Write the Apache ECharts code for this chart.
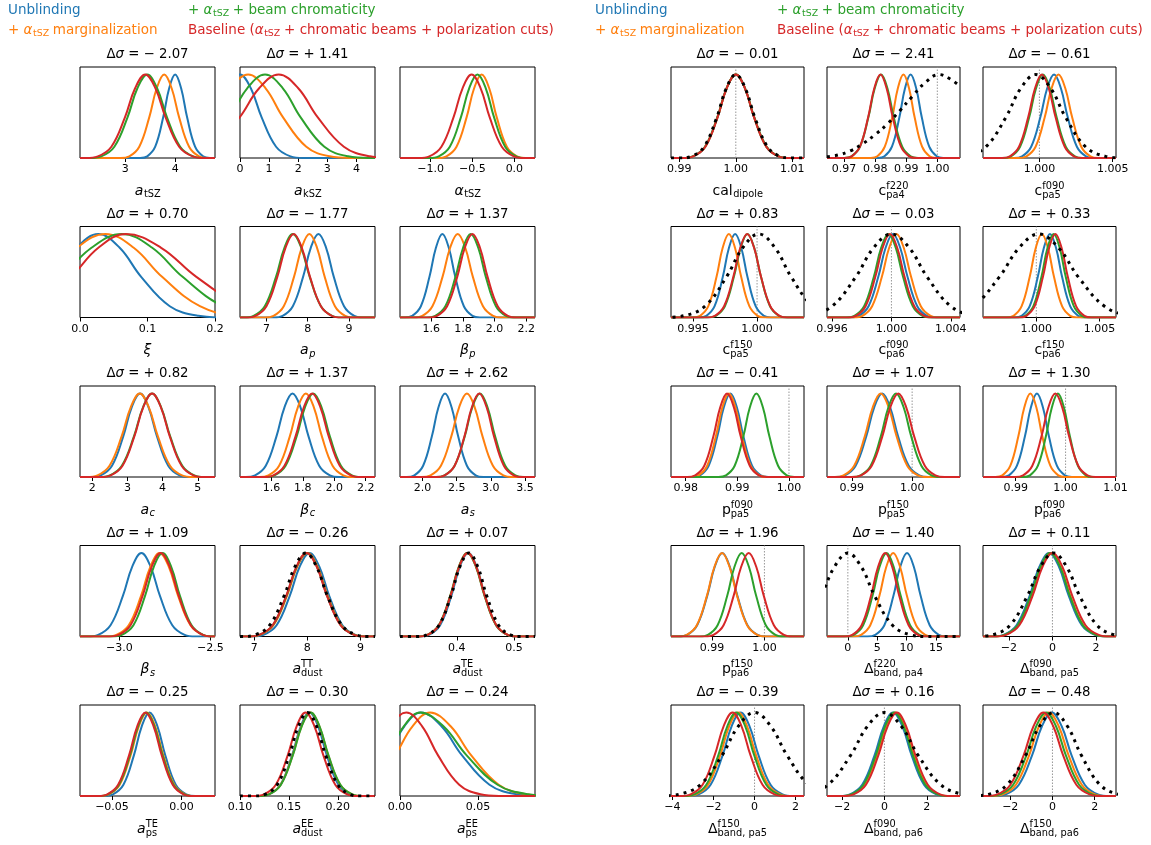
<!DOCTYPE html>
<html><head><meta charset="utf-8">
<script src="https://cdn.jsdelivr.net/npm/echarts@6/dist/echarts.min.js"></script>
<style>html,body{margin:0;padding:0;background:#fff}#c{width:1151px;height:845px}</style>
</head><body><div id="c"></div>
<script>
const LEVELS = [0, 0.02, 0.135, 0.487, 0.835, 1, 0.835, 0.487, 0.135, 0.02, 0];
const COLORS = ['#1f77b4', '#ff7f0e', '#2ca02c', '#d62728'];

const DSIGMA_LEFT = ['−2.07','+1.41',null,'+0.70','−1.77','+1.37','+0.82','+1.37','+2.62','+1.09','−0.26','+0.07','−0.25','−0.30','−0.24'];
const DSIGMA_RIGHT = ['−0.01','−2.41','−0.61','+0.83','−0.03','+0.33','−0.41','+1.07','+1.30','+1.96','−1.40','+0.11','−0.39','+0.16','−0.48'];

// ---------- left block ----------
const aTSZ_range = [2.09, 4.80], aTSZ_ticks = ['3','4'];
const aTSZ_blue = [3.30,3.44,3.60,3.76,3.88,4.00,4.12,4.24,4.40,4.56,4.70];
const aTSZ_orange = [2.905,3.08,3.28,3.48,3.63,3.78,3.93,4.08,4.28,4.48,4.655];
const aTSZ_green = [2.285,2.516,2.78,3.044,3.242,3.44,3.638,3.836,4.10,4.364,4.595];
const aTSZ_red = [2.21,2.448,2.72,2.992,3.196,3.40,3.604,3.808,4.08,4.352,4.59];

const aKSZ_range = [0, 4.64], aKSZ_ticks = ['0','1','2','3','4'];
const aKSZ_blue = [-2.17,-1.736,-1.24,-0.744,-0.372,0,0.372,0.744,1.24,1.736,2.17];
const aKSZ_orange = [-3.22,-2.52,-1.72,-0.92,-0.32,0.28,0.88,1.48,2.28,3.08,3.78];
const aKSZ_green = [-2.71,-1.996,-1.18,-0.364,0.248,0.86,1.472,2.084,2.90,3.716,4.43];
const aKSZ_red = [-2.59,-1.806,-0.91,-0.014,0.658,1.33,2.002,2.674,3.57,4.466,5.25];

const alphaTSZ_range = [-1.364, 0.246], alphaTSZ_ticks = ['−1.0','−0.5','0.0'];
const alphaTSZ_orange = [-0.915,-0.81,-0.69,-0.57,-0.48,-0.39,-0.30,-0.21,-0.09,0.03,0.135];
const alphaTSZ_green = [-1.0175,-0.902,-0.77,-0.638,-0.539,-0.44,-0.341,-0.242,-0.11,0.022,0.1375];
const alphaTSZ_red = [-1.14,-1.014,-0.87,-0.726,-0.618,-0.51,-0.402,-0.294,-0.15,-0.006,0.12];

const xi_range = [0, 0.2], xi_ticks = ['0.0','0.1','0.2'];
const xi_blue = [-0.1585,-0.1214,-0.079,-0.0366,-0.0048,0.027,0.0588,0.0906,0.133,0.1754,0.2125];
const xi_orange = [-0.2074,-0.1584,-0.1024,-0.0464,-0.0044,0.0376,0.0796,0.1216,0.1776,0.2336,0.2826];
const xi_green = [-0.2005,-0.148,-0.088,-0.028,0.017,0.062,0.107,0.152,0.212,0.272,0.3245];
const xi_red = [-0.17,-0.1224,-0.068,-0.0136,0.0272,0.068,0.1202,0.1724,0.242,0.3116,0.3725];

const aP_range = [6.36, 9.63], aP_ticks = ['7','8','9'];
const aP_blue = [7.175,7.392,7.64,7.888,8.074,8.26,8.446,8.632,8.88,9.128,9.345];
const aP_orange = [6.955,7.172,7.42,7.668,7.854,8.04,8.226,8.412,8.66,8.908,9.125];
const aP_green = [6.45,6.688,6.96,7.232,7.436,7.64,7.844,8.048,8.32,8.592,8.83];
const aP_red = [6.505,6.736,7.00,7.264,7.462,7.66,7.858,8.056,8.32,8.584,8.815];

const betaP_range = [1.402, 2.256], betaP_ticks = ['1.6','1.8','2.0','2.2'];
const betaP_blue = [1.432,1.4796,1.534,1.5884,1.6292,1.67,1.7108,1.7516,1.806,1.8604,1.908];
const betaP_orange = [1.487,1.543,1.607,1.671,1.719,1.767,1.815,1.863,1.927,1.991,2.047];
const betaP_green = [1.569,1.625,1.689,1.753,1.801,1.849,1.897,1.945,2.009,2.073,2.129];
const betaP_red = [1.58,1.636,1.70,1.764,1.812,1.86,1.908,1.956,2.02,2.084,2.14];

const aC_range = [1.65, 5.49], aC_ticks = ['2','3','4','5'];
const aC_blue = [1.96,2.24,2.56,2.88,3.12,3.36,3.60,3.84,4.16,4.48,4.76];
const aC_orange = [1.845,2.146,2.49,2.834,3.092,3.35,3.608,3.866,4.21,4.554,4.855];
const aC_green = [2.195,2.496,2.84,3.184,3.442,3.70,3.958,4.216,4.56,4.904,5.205];
const aC_red = [2.23,2.524,2.86,3.196,3.448,3.70,3.952,4.204,4.54,4.876,5.17];

const betaC_range = [1.40, 2.259], betaC_ticks = ['1.6','1.8','2.0','2.2'];
const betaC_blue = [1.4365,1.496,1.564,1.632,1.683,1.734,1.785,1.836,1.904,1.972,2.0315];
const betaC_orange = [1.5215,1.581,1.649,1.717,1.768,1.819,1.87,1.921,1.989,2.057,2.1165];
const betaC_green = [1.558,1.6196,1.69,1.7604,1.8132,1.866,1.9188,1.9716,2.042,2.1124,2.174];
const betaC_red = [1.551,1.6126,1.683,1.7534,1.8062,1.859,1.9118,1.9646,2.035,2.1054,2.167];

const aS_range = [1.672, 3.645], aS_ticks = ['2.0','2.5','3.0','3.5'];
const aS_blue = [1.77,1.882,2.01,2.138,2.234,2.33,2.426,2.522,2.65,2.778,2.89];
const aS_orange = [1.985,2.118,2.27,2.422,2.536,2.65,2.764,2.878,3.03,3.182,3.315];
const aS_green = [2.1925,2.322,2.47,2.618,2.729,2.84,2.951,3.062,3.21,3.358,3.4875];
const aS_red = [2.20,2.326,2.47,2.614,2.722,2.83,2.938,3.046,3.19,3.334,3.46];

const betaS_range = [-3.217, -2.474], betaS_ticks = ['−3.0','−2.5'];
const betaS_blue = [-3.1765,-3.117,-3.049,-2.981,-2.93,-2.879,-2.828,-2.777,-2.709,-2.641,-2.5815];
const betaS_orange = [-3.0765,-3.017,-2.949,-2.881,-2.83,-2.779,-2.728,-2.677,-2.609,-2.541,-2.4815];
const betaS_green = [-3.043,-2.987,-2.923,-2.859,-2.811,-2.763,-2.715,-2.667,-2.603,-2.539,-2.483];
const betaS_red = [-3.0635,-3.0054,-2.939,-2.8726,-2.8228,-2.773,-2.7232,-2.6734,-2.607,-2.5406,-2.4825];

const aDustTT_range = [6.73, 9.275], aDustTT_ticks = ['7','8','9'];
const aDustTT_blue = [6.955,7.172,7.42,7.668,7.854,8.04,8.226,8.412,8.66,8.908,9.125];
const aDustTT_orange = [6.88,7.104,7.36,7.616,7.808,8.00,8.192,8.384,8.64,8.896,9.12];
const aDustTT_green = [6.87,7.094,7.35,7.606,7.798,7.99,8.182,8.374,8.63,8.886,9.11];
const aDustTT_red = [6.865,7.089,7.345,7.601,7.793,7.985,8.177,8.369,8.625,8.881,9.105];
const aDustTT_prior = [6.78,7.018,7.29,7.562,7.766,7.97,8.174,8.378,8.65,8.922,9.16];

const aDustTE_range = [0.301, 0.5365], aDustTE_ticks = ['0.4','0.5'];
const aDustTE_blue = [0.33425,0.3514,0.371,0.3906,0.4053,0.42,0.4347,0.4494,0.469,0.4886,0.50575];
const aDustTE_orange = [0.3315,0.349,0.369,0.389,0.404,0.419,0.434,0.449,0.469,0.489,0.5065];
const aDustTE_green = [0.331,0.3485,0.3685,0.3885,0.4035,0.4185,0.4335,0.4485,0.4685,0.4885,0.506];
const aDustTE_red = [0.3315,0.349,0.369,0.389,0.404,0.419,0.434,0.449,0.469,0.489,0.5065];
const aDustTE_prior = [0.33,0.3482,0.369,0.3898,0.4054,0.421,0.4366,0.4522,0.473,0.4938,0.512];

const aPsTE_range = [-0.073, 0.024], aPsTE_ticks = ['−0.05','0.00'];
const aPsTE_blue = [-0.0559,-0.04932,-0.0418,-0.03428,-0.02864,-0.023,-0.01736,-0.01172,-0.0042,0.00332,0.0099];
const aPsTE_orange = [-0.0592,-0.05234,-0.0445,-0.03666,-0.03078,-0.0249,-0.01902,-0.01314,-0.0053,0.00254,0.0094];
const aPsTE_green = [-0.0597,-0.05284,-0.045,-0.03716,-0.03128,-0.0254,-0.01952,-0.01364,-0.0058,0.00204,0.0089];
const aPsTE_red = [-0.0603,-0.05344,-0.0456,-0.03776,-0.03188,-0.026,-0.02012,-0.01424,-0.0064,0.00144,0.0083];

const aDustEE_range = [0.10, 0.238], aDustEE_ticks = ['0.10','0.15','0.20'];
const aDustEE_blue = [0.1192,0.12956,0.1414,0.15324,0.16212,0.171,0.17988,0.18876,0.2006,0.21244,0.2228];
const aDustEE_orange = [0.1188,0.12944,0.1416,0.15376,0.16288,0.172,0.18112,0.19024,0.2024,0.21456,0.2252];
const aDustEE_green = [0.119,0.12964,0.1418,0.15396,0.16308,0.1722,0.18132,0.19044,0.2026,0.21476,0.2254];
const aDustEE_red = [0.1138,0.12444,0.1366,0.14876,0.15788,0.167,0.17612,0.18524,0.1974,0.20956,0.2202];
const aDustEE_prior = [0.11475,0.1256,0.138,0.1504,0.1597,0.169,0.1783,0.1876,0.2,0.2124,0.22325];

const aPsEE_range = [0, 0.0866], aPsEE_ticks = ['0.00','0.05'];
const aPsEE_blue = [-0.04855,-0.03616,-0.022,-0.00784,0.00278,0.0134,0.0266,0.0398,0.0574,0.075,0.0904];
const aPsEE_orange = [-0.0465,-0.03334,-0.0183,-0.00326,0.00802,0.0193,0.0325,0.0457,0.0633,0.0809,0.0963];
const aPsEE_green = [-0.0486,-0.03628,-0.0222,-0.00812,0.00244,0.013,0.02788,0.04276,0.0626,0.08244,0.0998];
const aPsEE_red = [-0.0555,-0.0436,-0.03,-0.0164,-0.0062,0.004,0.0142,0.0244,0.038,0.0516,0.0635];

// ---------- right block ----------
const calDipole_range = [0.98853, 1.01207], calDipole_ticks = ['0.99','1.00','1.01'];
const calDipole_blue = [0.99055,0.99244,0.9946,0.99676,0.99838,1.0,1.00162,1.00324,1.0054,1.00756,1.00945];
const calDipole_orange = [0.99055,0.99244,0.9946,0.99676,0.99838,1.0,1.00162,1.00324,1.0054,1.00756,1.00945];
const calDipole_green = [0.99045,0.99236,0.99454,0.99672,0.99836,1.0,1.00164,1.00328,1.00546,1.00764,1.00955];
const calDipole_red = [0.99055,0.99244,0.9946,0.99676,0.99838,1.0,1.00162,1.00324,1.0054,1.00756,1.00945];
const calDipole_prior = [0.9902,0.99216,0.9944,0.99664,0.99832,1.0,1.00168,1.00336,1.0056,1.00784,1.0098];

const cF220pa4_range = [0.9645, 1.0073], cF220pa4_ticks = ['0.97','0.98','0.99','1.00'];
const cF220pa4_blue = [0.9809,0.983,0.9854,0.9878,0.9896,0.9914,0.9932,0.995,0.9974,0.9998,1.0019];
const cF220pa4_orange = [0.9786,0.9807,0.9831,0.9855,0.9873,0.9891,0.9909,0.9927,0.9951,0.9975,0.9996];
const cF220pa4_green = [0.97,0.97238,0.9751,0.97782,0.97986,0.9819,0.98394,0.98598,0.9887,0.99142,0.9938];
const cF220pa4_red = [0.97015,0.97246,0.9751,0.97774,0.97972,0.9817,0.98368,0.98566,0.9883,0.99094,0.99325];
const cF220pa4_prior = [[0.9645,0.015],[0.968,0.035],[0.972,0.085],[0.976,0.17],[0.98,0.28],[0.984,0.41],[0.988,0.57],[0.992,0.74],[0.996,0.9],[1.0005,1.0],[1.004,0.95],[1.0073,0.86]];

const cF090pa5_range = [0.99615, 1.00523], cF090pa5_ticks = ['1.000','1.005'];
const cF090pa5_blue = [0.99827,0.998816,0.99944,1.000064,1.000532,1.0010,1.001468,1.001936,1.00256,1.003184,1.00373];
const cF090pa5_orange = [0.99857,0.999116,0.99974,1.000364,1.000832,1.0013,1.001768,1.002236,1.00286,1.003484,1.00403];
const cF090pa5_green = [0.99751,0.998056,0.99868,0.999304,0.999772,1.00024,1.000708,1.001176,1.0018,1.002424,1.00297];
const cF090pa5_red = [0.99744,0.997986,0.99861,0.999234,0.999702,1.00017,1.000638,1.001106,1.00173,1.002354,1.0029];
const cF090pa5_prior = [0.9938,0.99499,0.99635,0.99771,0.99873,0.99975,1.00077,1.00179,1.00315,1.00451,1.0057];

const cF150pa5_range = [0.99329, 1.00366], cF150pa5_ticks = ['0.995','1.000'];
const cF150pa5_blue = [0.99549,0.99605,0.99669,0.99733,0.99781,0.99829,0.99877,0.99925,0.99989,1.00053,1.00109];
const cF150pa5_orange = [0.995,0.99556,0.9962,0.99684,0.99732,0.9978,0.99828,0.99876,0.9994,1.00004,1.0006];
const cF150pa5_green = [0.99617,0.996786,0.99749,0.998194,0.998722,0.99925,0.999778,1.000306,1.00101,1.001714,1.00233];
const cF150pa5_red = [0.99608,0.99671,0.99743,0.99815,0.99869,0.99923,0.99977,1.00031,1.00103,1.00175,1.00238];
const cF150pa5_prior = [0.99279,0.99426,0.99594,0.99762,0.99888,1.00014,1.0014,1.00266,1.00434,1.00602,1.00749];

const cF090pa6_range = [0.99566, 1.00462], cF090pa6_ticks = ['0.996','1.000','1.004'];
const cF090pa6_blue = [0.99723,0.997804,0.99846,0.999116,0.999608,1.0001,1.000592,1.001084,1.00174,1.002396,1.00297];
const cF090pa6_orange = [0.99747,0.998044,0.9987,0.999356,0.999848,1.00034,1.000832,1.001324,1.00198,1.002636,1.00321];
const cF090pa6_green = [0.99693,0.997504,0.99816,0.998816,0.999308,0.9998,1.000292,1.000784,1.00144,1.002096,1.00267];
const cF090pa6_red = [0.99703,0.997604,0.99826,0.998916,0.999408,0.9999,1.000392,1.000884,1.00154,1.002196,1.00277];
const cF090pa6_prior = [0.993,0.9944,0.996,0.9976,0.9988,1.0,1.0012,1.0024,1.004,1.0056,1.007];

const cF150pa6_range = [0.99578, 1.00631], cF150pa6_ticks = ['1.000','1.005'];
const cF150pa6_blue = [0.99828,0.99884,0.99948,1.00012,1.0006,1.00108,1.00156,1.00204,1.00268,1.00332,1.00388];
const cF150pa6_orange = [0.99764,0.9982,0.99884,0.99948,0.99996,1.00044,1.00092,1.0014,1.00204,1.00268,1.00324];
const cF150pa6_green = [0.99857,0.99913,0.99977,1.00041,1.00089,1.00137,1.00185,1.00233,1.00297,1.00361,1.00417];
const cF150pa6_red = [0.99864,0.999214,0.99987,1.000526,1.001018,1.00151,1.002002,1.002494,1.00315,1.003806,1.00438];
const cF150pa6_prior = [0.9911,0.99292,0.995,0.99708,0.99864,1.0002,1.00176,1.00332,1.0054,1.00748,1.0093];

const pF090pa5_range = [0.97716, 1.00291], pF090pa5_ticks = ['0.98','0.99','1.00'];
const pF090pa5_blue = [0.9813,0.98277,0.98445,0.98613,0.98739,0.98865,0.98991,0.99117,0.99285,0.99453,0.996];
const pF090pa5_orange = [0.98102,0.98249,0.98417,0.98585,0.98711,0.98837,0.98963,0.99089,0.99257,0.99425,0.99572];
const pF090pa5_green = [0.98634,0.98781,0.98949,0.99117,0.99243,0.99369,0.99495,0.99621,0.99789,0.99957,1.00104];
const pF090pa5_red = [0.98031,0.98185,0.98361,0.98537,0.98669,0.98801,0.98933,0.99065,0.99241,0.99417,0.99571];

const pF150pa5_range = [0.98588, 1.00794], pF150pa5_ticks = ['0.99','1.00'];
const pF150pa5_blue = [0.98733,0.98887,0.99063,0.99239,0.99371,0.99503,0.99635,0.99767,0.99943,1.00119,1.00273];
const pF150pa5_orange = [0.98709,0.98863,0.99039,0.99215,0.99347,0.99479,0.99611,0.99743,0.99919,1.00095,1.00249];
const pF150pa5_green = [0.98998,0.99145,0.99313,0.99481,0.99607,0.99733,0.99859,0.99985,1.00153,1.00321,1.00468];
const pF150pa5_red = [0.99,0.99154,0.9933,0.99506,0.99638,0.9977,0.99902,1.00034,1.0021,1.00386,1.0054];

const pF090pa6_range = [0.98346, 1.0101], pF090pa6_ticks = ['0.99','1.00','1.01'];
const pF090pa6_blue = [0.98726,0.98866,0.99026,0.99186,0.99306,0.99426,0.99546,0.99666,0.99826,0.99986,1.00126];
const pF090pa6_orange = [0.98594,0.98734,0.98894,0.99054,0.99174,0.99294,0.99414,0.99534,0.99694,0.99854,0.99994];
const pF090pa6_green = [0.99146,0.99286,0.99446,0.99606,0.99726,0.99846,0.99966,1.00086,1.00246,1.00406,1.00546];
const pF090pa6_red = [0.98989,0.9915,0.99334,0.99518,0.99656,0.99794,0.99932,1.0007,1.00254,1.00438,1.00599];

const pF150pa6_range = [0.98217, 1.00755], pF150pa6_ticks = ['0.99','1.00'];
const pF150pa6_blue = [0.98356,0.98524,0.98716,0.98908,0.99052,0.99196,0.9934,0.99484,0.99676,0.99868,1.00036];
const pF150pa6_orange = [0.9835,0.98518,0.9871,0.98902,0.99046,0.9919,0.99334,0.99478,0.9967,0.99862,1.0003];
const pF150pa6_green = [0.98761,0.98922,0.99106,0.9929,0.99428,0.99566,0.99704,0.99842,1.00026,1.0021,1.00371];
const pF150pa6_red = [0.9886,0.99028,0.9922,0.99412,0.99556,0.997,0.99844,0.99988,1.0018,1.00372,1.0054];

const dF220pa4_range = [-3.55, 19.1], dF220pa4_ticks = ['0','5','10','15'];
const dF220pa4_blue = [3.325,4.676,6.22,7.764,8.922,10.08,11.238,12.396,13.94,15.484,16.835];
const dF220pa4_orange = [0.895,2.26,3.82,5.38,6.55,7.72,8.89,10.06,11.62,13.18,14.545];
const dF220pa4_green = [-0.4,1.0,2.6,4.2,5.4,6.6,7.8,9.0,10.6,12.2,13.6];
const dF220pa4_red = [-0.65,0.75,2.35,3.95,5.15,6.35,7.55,8.75,10.35,11.95,13.35];
const dF220pa4_prior = [-13.3,-10.64,-7.6,-4.56,-2.28,0,2.28,4.56,7.6,10.64,13.3];

const dF090pa5_range = [-3.19, 2.92], dF090pa5_ticks = ['−2','0','2'];
const dF090pa5_blue = [-2.775,-2.25,-1.65,-1.05,-0.6,-0.15,0.3,0.75,1.35,1.95,2.475];
const dF090pa5_orange = [-2.705,-2.18,-1.58,-0.98,-0.53,-0.08,0.37,0.82,1.42,2.02,2.545];
const dF090pa5_green = [-2.725,-2.2,-1.6,-1.0,-0.55,-0.1,0.35,0.8,1.4,2.0,2.525];
const dF090pa5_red = [-2.66,-2.128,-1.52,-0.912,-0.456,0,0.456,0.912,1.52,2.128,2.66];
const dF090pa5_prior = [-3.45,-2.75,-1.95,-1.15,-0.55,0.05,0.65,1.25,2.05,2.85,3.55];

const dF150pa5_range = [-4.07, 2.41], dF150pa5_ticks = ['−4','−2','0','2'];
const dF150pa5_blue = [-3.235,-2.724,-2.14,-1.556,-1.118,-0.68,-0.242,0.196,0.78,1.364,1.875];
const dF150pa5_orange = [-3.355,-2.844,-2.26,-1.676,-1.238,-0.8,-0.362,0.076,0.66,1.244,1.755];
const dF150pa5_green = [-3.445,-2.934,-2.35,-1.766,-1.328,-0.89,-0.452,-0.014,0.57,1.154,1.665];
const dF150pa5_red = [-3.625,-3.114,-2.53,-1.946,-1.508,-1.07,-0.632,-0.194,0.39,0.974,1.485];
const dF150pa5_prior = [-4.62,-3.696,-2.64,-1.584,-0.792,0,0.792,1.584,2.64,3.696,4.62];

const dF090pa6_range = [-2.71, 3.57], dF090pa6_ticks = ['−2','0','2'];
const dF090pa6_blue = [-2.145,-1.634,-1.05,-0.466,-0.028,0.41,0.848,1.286,1.87,2.454,2.965];
const dF090pa6_orange = [-2.035,-1.524,-0.94,-0.356,0.082,0.52,0.958,1.396,1.98,2.564,3.075];
const dF090pa6_green = [-2.085,-1.574,-0.99,-0.406,0.032,0.47,0.908,1.346,1.93,2.514,3.025];
const dF090pa6_red = [-1.965,-1.454,-0.87,-0.286,0.152,0.59,1.028,1.466,2.05,2.634,3.145];
const dF090pa6_prior = [-4.655,-3.724,-2.66,-1.596,-0.798,0,0.798,1.596,2.66,3.724,4.655];

const dF150pa6_range = [-3.29, 3.01], dF150pa6_ticks = ['−2','0','2'];
const dF150pa6_blue = [-2.76,-2.214,-1.59,-0.966,-0.498,-0.03,0.438,0.906,1.53,2.154,2.7];
const dF150pa6_orange = [-2.9,-2.354,-1.73,-1.106,-0.638,-0.17,0.298,0.766,1.39,2.014,2.56];
const dF150pa6_green = [-3.03,-2.484,-1.86,-1.236,-0.768,-0.3,0.168,0.636,1.26,1.884,2.43];
const dF150pa6_red = [-3.16,-2.614,-1.99,-1.366,-0.898,-0.43,0.038,0.506,1.13,1.754,2.3];
const dF150pa6_prior = [-3.8,-3.03,-2.15,-1.27,-0.61,0.05,0.71,1.37,2.25,3.13,3.9];

// axis labels: [main, mainItalic, sup, sub, subItalic]
const LABELS_LEFT = [
  ['a',1,null,'tSZ',0], ['a',1,null,'kSZ',0], ['α',1,null,'tSZ',0],
  ['ξ',1,null,null,0], ['a',1,null,'p',1], ['β',1,null,'p',1],
  ['a',1,null,'c',1], ['β',1,null,'c',1], ['a',1,null,'s',1],
  ['β',1,null,'s',1], ['a',1,'TT','dust',0], ['a',1,'TE','dust',0],
  ['a',1,'TE','ps',0], ['a',1,'EE','dust',0], ['a',1,'EE','ps',0]
];
const LABELS_RIGHT = [
  ['cal',0,null,'dipole',0], ['c',0,'f220','pa4',0], ['c',0,'f090','pa5',0],
  ['c',0,'f150','pa5',0], ['c',0,'f090','pa6',0], ['c',0,'f150','pa6',0],
  ['p',0,'f090','pa5',0], ['p',0,'f150','pa5',0], ['p',0,'f090','pa6',0],
  ['p',0,'f150','pa6',0], ['Δ',0,'f220','band, pa4',0], ['Δ',0,'f090','band, pa5',0],
  ['Δ',0,'f150','band, pa5',0], ['Δ',0,'f090','band, pa6',0], ['Δ',0,'f150','band, pa6',0]
];

// ---------- layout ----------
const LEFT_X = [80, 240, 400], LEFT_W = 135;
const RIGHT_X = [671, 827, 983], RIGHT_W = 133;
const ROW_Y = [67, 226.5, 386, 545.5, 705], ROW_H = 91;
const Y_MAX = 1.09;

const PANELS_LEFT = [
  [aTSZ_range, aTSZ_ticks, [aTSZ_blue, aTSZ_orange, aTSZ_green, aTSZ_red], null, null],
  [aKSZ_range, aKSZ_ticks, [aKSZ_blue, aKSZ_orange, aKSZ_green, aKSZ_red], null, null],
  [alphaTSZ_range, alphaTSZ_ticks, [null, alphaTSZ_orange, alphaTSZ_green, alphaTSZ_red], null, null],
  [xi_range, xi_ticks, [xi_blue, xi_orange, xi_green, xi_red], null, null],
  [aP_range, aP_ticks, [aP_blue, aP_orange, aP_green, aP_red], null, null],
  [betaP_range, betaP_ticks, [betaP_blue, betaP_orange, betaP_green, betaP_red], null, null],
  [aC_range, aC_ticks, [aC_blue, aC_orange, aC_green, aC_red], null, null],
  [betaC_range, betaC_ticks, [betaC_blue, betaC_orange, betaC_green, betaC_red], null, null],
  [aS_range, aS_ticks, [aS_blue, aS_orange, aS_green, aS_red], null, null],
  [betaS_range, betaS_ticks, [betaS_blue, betaS_orange, betaS_green, betaS_red], null, null],
  [aDustTT_range, aDustTT_ticks, [aDustTT_blue, aDustTT_orange, aDustTT_green, aDustTT_red], aDustTT_prior, null],
  [aDustTE_range, aDustTE_ticks, [aDustTE_blue, aDustTE_orange, aDustTE_green, aDustTE_red], aDustTE_prior, null],
  [aPsTE_range, aPsTE_ticks, [aPsTE_blue, aPsTE_orange, aPsTE_green, aPsTE_red], null, null],
  [aDustEE_range, aDustEE_ticks, [aDustEE_blue, aDustEE_orange, aDustEE_green, aDustEE_red], aDustEE_prior, null],
  [aPsEE_range, aPsEE_ticks, [aPsEE_blue, aPsEE_orange, aPsEE_green, aPsEE_red], null, null]
];
const PANELS_RIGHT = [
  [calDipole_range, calDipole_ticks, [calDipole_blue, calDipole_orange, calDipole_green, calDipole_red], calDipole_prior, 1.0],
  [cF220pa4_range, cF220pa4_ticks, [cF220pa4_blue, cF220pa4_orange, cF220pa4_green, cF220pa4_red], cF220pa4_prior, 1.0],
  [cF090pa5_range, cF090pa5_ticks, [cF090pa5_blue, cF090pa5_orange, cF090pa5_green, cF090pa5_red], cF090pa5_prior, 1.0],
  [cF150pa5_range, cF150pa5_ticks, [cF150pa5_blue, cF150pa5_orange, cF150pa5_green, cF150pa5_red], cF150pa5_prior, 1.0],
  [cF090pa6_range, cF090pa6_ticks, [cF090pa6_blue, cF090pa6_orange, cF090pa6_green, cF090pa6_red], cF090pa6_prior, 1.0],
  [cF150pa6_range, cF150pa6_ticks, [cF150pa6_blue, cF150pa6_orange, cF150pa6_green, cF150pa6_red], cF150pa6_prior, 1.0],
  [pF090pa5_range, pF090pa5_ticks, [pF090pa5_blue, pF090pa5_orange, pF090pa5_green, pF090pa5_red], null, 1.0],
  [pF150pa5_range, pF150pa5_ticks, [pF150pa5_blue, pF150pa5_orange, pF150pa5_green, pF150pa5_red], null, 1.0],
  [pF090pa6_range, pF090pa6_ticks, [pF090pa6_blue, pF090pa6_orange, pF090pa6_green, pF090pa6_red], null, 1.0],
  [pF150pa6_range, pF150pa6_ticks, [pF150pa6_blue, pF150pa6_orange, pF150pa6_green, pF150pa6_red], null, 1.0],
  [dF220pa4_range, dF220pa4_ticks, [dF220pa4_blue, dF220pa4_orange, dF220pa4_green, dF220pa4_red], dF220pa4_prior, 0],
  [dF090pa5_range, dF090pa5_ticks, [dF090pa5_blue, dF090pa5_orange, dF090pa5_green, dF090pa5_red], dF090pa5_prior, 0],
  [dF150pa5_range, dF150pa5_ticks, [dF150pa5_blue, dF150pa5_orange, dF150pa5_green, dF150pa5_red], dF150pa5_prior, 0],
  [dF090pa6_range, dF090pa6_ticks, [dF090pa6_blue, dF090pa6_orange, dF090pa6_green, dF090pa6_red], dF090pa6_prior, 0],
  [dF150pa6_range, dF150pa6_ticks, [dF150pa6_blue, dF150pa6_orange, dF150pa6_green, dF150pa6_red], dF150pa6_prior, 0]
];

// ---------- text helpers ----------
const FONT = 'DejaVu Sans';
const mctx = document.createElement('canvas').getContext('2d');
function tw(t, size, it) { mctx.font = (it ? 'italic ' : '') + size + 'px "' + FONT + '"'; return mctx.measureText(t).width; }
function txt(t, x, y, size, it, color) {
  return { type: 'text', x: x, y: y, silent: true, z: 100,
    style: { text: t, fontSize: size, fontFamily: FONT, fontStyle: it ? 'italic' : 'normal', fill: color,
             align: 'left', verticalAlign: 'middle' } };
}
function math(parts, x, y, size, color, anchor) {
  const ss = +(size * 0.7).toFixed(1);
  const items = []; let cx = 0;
  for (const p of parts) {
    if (p.t !== undefined) { items.push([p.t, cx, 0, size, p.it]); cx += tw(p.t, size, p.it); }
    else {
      let w = 0;
      if (p.sup) { items.push([p.sup, cx, -0.34 * size, ss, 0]); w = Math.max(w, tw(p.sup, ss, 0)); }
      if (p.sub) { items.push([p.sub, cx + (p.sup ? 0 : 0.5), (p.sup ? 0.3 : 0.28) * size, ss, p.subIt]); w = Math.max(w, tw(p.sub, ss, p.subIt)); }
      cx += w;
    }
  }
  const x0 = anchor === 'center' ? x - cx / 2 : x;
  return items.map(it => txt(it[0], x0 + it[1], y + it[2], it[3], it[4], color));
}

// ---------- build option ----------
const grids = [], xAxes = [], yAxes = [], series = [], graphics = [];
function toPoints(curve, range) {
  let p = (typeof curve[0] === 'number') ? curve.map((x, k) => [x, LEVELS[k]]) : curve.map(d => d.slice());
  if (p[0][0] > range[0]) p.unshift([range[0], 0]);
  if (p[p.length - 1][0] < range[1]) p.push([range[1], 0]);
  return p;
}
function addPanel(side, idx, panel, title, label) {
  const r = Math.floor(idx / 3), c = idx % 3;
  const gx = side === 'L' ? LEFT_X[c] : RIGHT_X[c];
  const gw = side === 'L' ? LEFT_W : RIGHT_W;
  const gy = ROW_Y[r], gh = ROW_H;
  const gi = grids.length;
  const [range, tickLabels, curves, prior, vline] = panel;
  const tickVals = tickLabels.map(s => parseFloat(s.replace('−', '-')));
  grids.push({ left: gx, top: gy, width: gw, height: gh, show: true, borderColor: '#000', borderWidth: 1, containLabel: false });
  xAxes.push({ gridIndex: gi, type: 'value', min: range[0], max: range[1],
    axisLine: { show: false }, splitLine: { show: false },
    axisTick: { show: true, inside: false, length: 4, lineStyle: { color: '#000', width: 1 }, customValues: tickVals },
    axisLabel: { show: true, interval: 0, customValues: tickVals, margin: 6, fontFamily: FONT, fontSize: 11, color: '#000',
      formatter: v => { let b = 0; for (let k = 1; k < tickVals.length; k++) if (Math.abs(tickVals[k] - v) < Math.abs(tickVals[b] - v)) b = k; return tickLabels[b]; } } });
  yAxes.push({ gridIndex: gi, type: 'value', min: 0, max: Y_MAX, show: false });
  if (vline !== null) {
    series.push({ type: 'line', xAxisIndex: gi, yAxisIndex: gi, data: [[vline, 0], [vline, Y_MAX]], showSymbol: false, silent: true,
      lineStyle: { color: '#8c8c8c', width: 0.9, type: [1.5, 1.5] }, z: 1 });
  }
  curves.forEach((cv, k) => {
    if (!cv) return;
    series.push({ type: 'line', xAxisIndex: gi, yAxisIndex: gi, data: toPoints(cv, range), showSymbol: false, silent: true,
      smooth: 0.4, lineStyle: { color: COLORS[k], width: 2 }, itemStyle: { color: COLORS[k] }, z: 2 });
  });
  if (prior) {
    series.push({ type: 'line', xAxisIndex: gi, yAxisIndex: gi, data: toPoints(prior, range), showSymbol: false, silent: true,
      smooth: 0.4, lineStyle: { color: '#000', width: 3, type: [3, 5] }, itemStyle: { color: '#000' }, z: 3 });
  }
  const cxm = gx + gw / 2;
  if (title) {
    const sign = title[0], num = title.slice(1);
    graphics.push(...math([{ t: 'Δ' }, { t: 'σ', it: 1 }, { t: ' = ' + sign + ' ' + num }], cxm, gy - 12, 13.3, '#000', 'center'));
  }
  const [m, mit, sup, sub, subIt] = label;
  const parts = [{ t: m, it: mit }];
  if (sup || sub) parts.push({ sup: sup, sub: sub, subIt: subIt });
  graphics.push(...math(parts, cxm, gy + gh + 33, 14, '#000', 'center'));
}
PANELS_LEFT.forEach((p, i) => addPanel('L', i, p, DSIGMA_LEFT[i], LABELS_LEFT[i]));
PANELS_RIGHT.forEach((p, i) => addPanel('R', i, p, DSIGMA_RIGHT[i], LABELS_RIGHT[i]));

// legend texts (two blocks)
[[8, 188], [595, 777]].forEach(([xa, xb]) => {
  graphics.push(...math([{ t: 'Unblinding' }], xa, 10, 13.5, COLORS[0], 'left'));
  graphics.push(...math([{ t: '+ ' }, { t: 'α', it: 1 }, { sub: 'tSZ' }, { t: ' marginalization' }], xa, 30, 13.5, COLORS[1], 'left'));
  graphics.push(...math([{ t: '+ ' }, { t: 'α', it: 1 }, { sub: 'tSZ' }, { t: ' + beam chromaticity' }], xb, 10, 13.5, COLORS[2], 'left'));
  graphics.push(...math([{ t: 'Baseline (' }, { t: 'α', it: 1 }, { sub: 'tSZ' }, { t: ' + chromatic beams + polarization cuts)' }], xb, 30, 13.5, COLORS[3], 'left'));
});

const chart = echarts.init(document.getElementById('c'), null, { renderer: 'canvas' });
chart.setOption({
  animation: false,
  backgroundColor: '#fff',
  grid: grids, xAxis: xAxes, yAxis: yAxes, series: series,
  graphic: graphics
});
</script>
</body></html>
